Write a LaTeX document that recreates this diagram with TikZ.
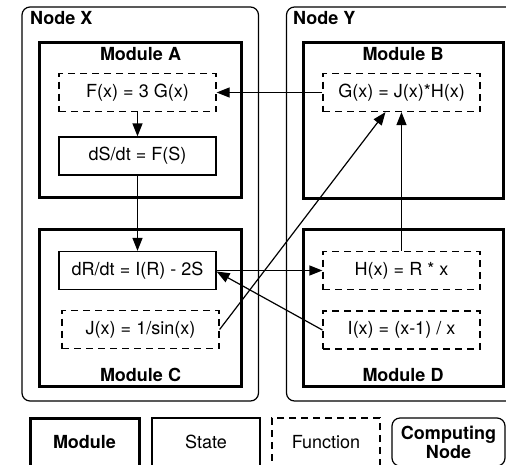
\documentclass[tikz,border=0pt]{standalone}
\usepackage{fontspec}
\setmainfont{TeX Gyre Heros}
\usetikzlibrary{arrows.meta}
\tikzset{
  base/.style={font=\fontsize{18}{20}\selectfont},
  statebox/.style={base,draw,line width=1.2pt,minimum width=157pt,minimum height=38pt,inner sep=0pt},
  funcbox/.style={statebox,dash pattern=on 7pt off 5pt},
  modbox/.style={draw,line width=3pt,inner sep=0pt},
  cnode/.style={draw,line width=1.2pt,rounded corners=8pt,inner sep=0pt},
  lbl/.style={base,font=\fontsize{18}{20}\selectfont\bfseries,inner sep=0pt},
  conn/.style={line width=1.2pt,-{Triangle[length=13pt,width=10pt]}},
}
\begin{document}
\begin{tikzpicture}[x=1pt,y=-1pt]
\useasboundingbox (0,0) rectangle (506,464);
% computing nodes
\draw[cnode] (22,7) rectangle (258.5,401);
\node[lbl,anchor=west] (nx) at (30,18) {Node X};
\draw[cnode] (286.5,7) rectangle (530,401);
\node[lbl,anchor=west] (ny) at (293,18) {Node Y};
% modules
\draw[modbox] (39.5,42) rectangle (241.5,197);
\node[lbl] (ma) at (140.5,54) {Module A};
\draw[modbox] (303,42) rectangle (503,198);
\node[lbl] (mb) at (403,54) {Module B};
\draw[modbox] (39.5,229) rectangle (241.5,386);
\node[lbl] (mc) at (140.5,375) {Module C};
\draw[modbox] (303,229) rectangle (503,386);
\node[lbl] (md) at (403,375) {Module D};
% states and functions
\node[funcbox] (F) at (137.5,92.5) {F(x) = 3 G(x)};
\node[statebox] (S) at (137.5,156) {dS/dt = F(S)};
\node[funcbox] (G) at (401.5,92.5) {G(x) = J(x)*H(x)};
\node[statebox] (R) at (137.5,270.5) {dR/dt = I(R) - 2S};
\node[funcbox] (J) at (140.5,329.5) {J(x) = 1/sin(x)};
\node[funcbox] (H) at (401.5,270.5) {H(x) = R * x};
\node[funcbox] (I) at (401.5,330) {I(x) = (x-1) / x};
% connectors
\draw[conn] (G.west) -- (F.east);
\draw[conn] (F.south) -- (S.north);
\draw[conn] (S.south) -- (R.north);
\draw[conn] (R.east) -- (H.west);
\draw[conn] (I.west) -- ([yshift=-1pt]R.east);
\draw[conn] (J.east) -- ([xshift=-16pt]G.south);
\draw[conn] (H.north) -- (G.south);
% legend
\node[modbox,base,font=\fontsize{18}{20}\selectfont\bfseries,minimum width=109pt,minimum height=48pt] (lm) at (84.5,442) {Module};
\node[statebox,minimum width=108pt,minimum height=48pt] (ls) at (206,442) {State};
\node[funcbox,minimum width=108pt,minimum height=48pt] (lf) at (326,442) {Function};
\node[cnode,base,font=\fontsize{18}{19}\selectfont\bfseries,align=center,minimum width=113pt,minimum height=48pt] (lc) at (448.5,442) {Computing\\Node};
\end{tikzpicture}
\end{document}
